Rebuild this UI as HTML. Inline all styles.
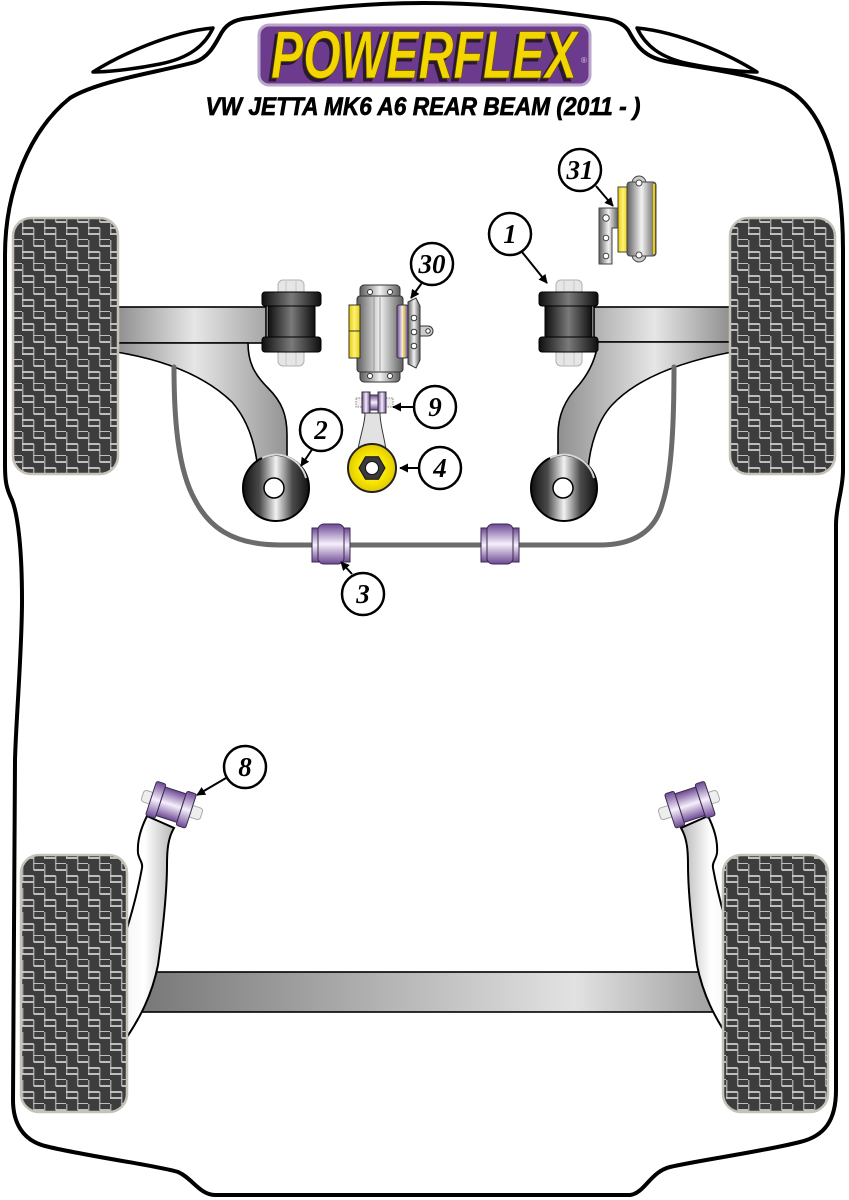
<!DOCTYPE html>
<html><head><meta charset="utf-8"><style>
html,body{margin:0;padding:0;background:#fff;}
svg{display:block;}
</style></head><body>
<svg width="849" height="1200" viewBox="0 0 849 1200" xmlns="http://www.w3.org/2000/svg">
<defs>
<pattern id="tp" width="22" height="24" patternUnits="userSpaceOnUse">
<rect width="22" height="24" fill="#3d3d3d"/>
<path d="M0.7,0V18M11.7,0V6M11.7,12V24" stroke="#a0a0a0" stroke-width="1.5"/>
<path d="M0,12H11.7M11.7,24H22M0,18H11.7M11.7,6H22" stroke="#d0d0d0" stroke-width="1.8"/>
</pattern>
<linearGradient id="gH" x1="0" x2="1" y1="0" y2="0"><stop offset="0" stop-color="#5e5e5e"/><stop offset=".5" stop-color="#f2f2f2"/><stop offset="1" stop-color="#5e5e5e"/></linearGradient>
<linearGradient id="kH" x1="0" x2="1" y1="0" y2="0"><stop offset="0" stop-color="#0e0e0e"/><stop offset=".5" stop-color="#7a7a7a"/><stop offset="1" stop-color="#0e0e0e"/></linearGradient>
<linearGradient id="pV" x1="0" x2="0" y1="0" y2="1"><stop offset="0" stop-color="#6c4894"/><stop offset=".5" stop-color="#f6f0fb"/><stop offset="1" stop-color="#6c4894"/></linearGradient>
<linearGradient id="pH" x1="0" x2="1" y1="0" y2="0"><stop offset="0" stop-color="#6c4894"/><stop offset=".5" stop-color="#f6f0fb"/><stop offset="1" stop-color="#6c4894"/></linearGradient>
<linearGradient id="armL" gradientUnits="userSpaceOnUse" x1="118" y1="0" x2="300" y2="0"><stop offset="0" stop-color="#909090"/><stop offset=".42" stop-color="#e6e6e6"/><stop offset="1" stop-color="#888"/></linearGradient>
<linearGradient id="armR" gradientUnits="userSpaceOnUse" x1="730" y1="0" x2="550" y2="0"><stop offset="0" stop-color="#909090"/><stop offset=".42" stop-color="#e6e6e6"/><stop offset="1" stop-color="#888"/></linearGradient>
<linearGradient id="beam" gradientUnits="userSpaceOnUse" x1="150" y1="0" x2="715" y2="0"><stop offset="0" stop-color="#7a7a7a"/><stop offset=".75" stop-color="#e2e2e2"/><stop offset="1" stop-color="#a0a0a0"/></linearGradient>
<linearGradient id="trail" x1="0" x2="1" y1="0" y2="0"><stop offset="0" stop-color="#f4f4f4"/><stop offset=".45" stop-color="#ffffff"/><stop offset="1" stop-color="#b5b5b5"/></linearGradient>
<linearGradient id="trailR" x1="1" x2="0" y1="0" y2="0"><stop offset="0" stop-color="#f4f4f4"/><stop offset=".45" stop-color="#ffffff"/><stop offset="1" stop-color="#b5b5b5"/></linearGradient>
<linearGradient id="disc" x1="0" x2="1" y1="0" y2="0"><stop offset="0" stop-color="#111"/><stop offset=".25" stop-color="#4a4a4a"/><stop offset=".5" stop-color="#f2f2f2"/><stop offset=".75" stop-color="#4a4a4a"/><stop offset="1" stop-color="#111"/></linearGradient>
<radialGradient id="yel"><stop offset="0" stop-color="#fffbb0"/><stop offset=".6" stop-color="#f7e600"/><stop offset="1" stop-color="#e2c800"/></radialGradient>
<linearGradient id="yH" x1="0" x2="1" y1="0" y2="0"><stop offset="0" stop-color="#e8cc00"/><stop offset=".5" stop-color="#fff27a"/><stop offset="1" stop-color="#e8cc00"/></linearGradient>
<marker id="ah" viewBox="0 0 10 10" refX="9" refY="5" markerWidth="4.5" markerHeight="4.5" orient="auto"><path d="M0,0L10,5L0,10z" fill="#000"/></marker>
</defs>

<!-- car outline -->
<path d="M425,1195 L215,1195 C200,1195 192,1178 178,1172 C160,1166 85,1156 45,1146 C22,1140 13,1122 13,1100 L15,760 C16,720 22,650 22,600 C22,550 18,515 12,500 C6,488 5,480 5,465 L5,255 C5,190 30,130 70,98 C100,80 160,72 195,62 C210,57 216,42 222,32 C228,22 238,19 250,18 C330,6 380,3 424,3 C470,3 520,6 600,18 C612,19 622,22 628,30 C634,40 640,56 665,61 C700,68 755,74 785,88 C820,106 843,160 843,250 L843,470 C843,490 836,505 836,525 L836,1090 C836,1120 825,1136 800,1142 C760,1152 700,1160 670,1167 C650,1172 645,1193 630,1195 Z" fill="none" stroke="#000" stroke-width="4"/>
<path d="M93,72 C120,55 170,32 213,28 C205,45 190,58 160,64 C130,70 105,72 93,72 Z" fill="none" stroke="#000" stroke-width="3.5" stroke-linejoin="round"/>
<path d="M757,72 C730,55 680,32 637,28 C645,45 660,58 690,64 C720,70 745,72 757,72 Z" fill="none" stroke="#000" stroke-width="3.5" stroke-linejoin="round"/>

<!-- logo -->
<rect x="259" y="25" width="331" height="60" rx="10" fill="#6d3b8e" stroke="#bba6cb" stroke-width="3"/>
<text x="268" y="81" textLength="306" lengthAdjust="spacingAndGlyphs" font-family="Liberation Sans, sans-serif" font-weight="bold" font-style="italic" font-size="68" fill="#2a1a2e" stroke="#2a1a2e" stroke-width="1">POWERFLEX</text>
<text x="271" y="78" textLength="306" lengthAdjust="spacingAndGlyphs" font-family="Liberation Sans, sans-serif" font-weight="bold" font-style="italic" font-size="68" fill="#f3d500" stroke="#6a5400" stroke-width="0.8">POWERFLEX</text>
<text x="581" y="63" font-family="Liberation Sans, sans-serif" font-size="8" fill="#d9c9e6">®</text>
<text x="423" y="115" text-anchor="middle" textLength="435" lengthAdjust="spacingAndGlyphs" font-family="Liberation Sans, sans-serif" font-weight="bold" font-style="italic" font-size="25" fill="#000" stroke="#000" stroke-width="0.7">VW JETTA MK6 A6 REAR BEAM (2011 - )</text>

<!-- top arms -->
<rect x="116" y="307" width="150" height="36" fill="url(#armL)" stroke="#000" stroke-width="1.6"/>
<path d="M116,343 L248,343 C248,362 254,374 268,388 C282,402 287,415 287,435 L287,470 L258,470 C255,440 246,418 232,402 C205,376 165,360 116,352 Z" fill="url(#armL)" stroke="#000" stroke-width="1.6"/>
<rect x="594" y="307" width="138" height="35" fill="url(#armR)" stroke="#000" stroke-width="1.6"/>
<path d="M732,342 L598,342 C596,358 590,372 578,386 C565,400 558,415 558,435 L558,470 L588,470 C590,445 598,420 612,405 C640,375 690,360 732,352 Z" fill="url(#armR)" stroke="#000" stroke-width="1.6"/>

<!-- anti roll bar -->
<path d="M174,367 C174,420 178,470 195,500 C208,525 230,545 280,545 L600,545 C635,545 655,530 662,505 C672,475 674,420 674,367" fill="none" stroke="#6b6b6b" stroke-width="5" stroke-linecap="round"/>

<!-- tyres top -->
<rect x="13" y="218" width="105" height="256" rx="18" fill="url(#tp)" stroke="#c6c2b8" stroke-width="2.5"/>
<rect x="730" y="218" width="105" height="256" rx="18" fill="url(#tp)" stroke="#c6c2b8" stroke-width="2.5"/>

<!-- black bushes (1) -->
<g>
<rect x="278" y="280" width="26" height="86" rx="5" fill="#e6e6e6" stroke="#b0b0b0"/>
<path d="M286,281V365M296,281V365" stroke="#c8c8c8"/>
<rect x="268" y="305" width="47" height="33" fill="url(#kH)" stroke="#000"/>
<rect x="262" y="292" width="59" height="14" rx="3" fill="url(#kH)" stroke="#000"/>
<rect x="262" y="337" width="59" height="15" rx="3" fill="url(#kH)" stroke="#000"/>
</g>
<g>
<rect x="556" y="280" width="26" height="86" rx="5" fill="#e6e6e6" stroke="#b0b0b0"/>
<path d="M564,281V365M574,281V365" stroke="#c8c8c8"/>
<rect x="545" y="305" width="47" height="33" fill="url(#kH)" stroke="#000"/>
<rect x="539" y="292" width="59" height="14" rx="3" fill="url(#kH)" stroke="#000"/>
<rect x="539" y="337" width="59" height="15" rx="3" fill="url(#kH)" stroke="#000"/>
</g>

<!-- disc bushes (2) -->
<circle cx="276" cy="488" r="33" fill="url(#disc)" stroke="#000" stroke-width="2"/>
<path d="M262,458 A31,31 0 0 1 306,478" fill="none" stroke="#d8d8d8" stroke-width="2"/>
<circle cx="274" cy="488" r="10" fill="#fff" stroke="#000" stroke-width="1.5"/>
<circle cx="564" cy="488" r="33" fill="url(#disc)" stroke="#000" stroke-width="2"/>
<path d="M550,458 A31,31 0 0 1 594,478" fill="none" stroke="#d8d8d8" stroke-width="2"/>
<circle cx="563" cy="488" r="10" fill="#fff" stroke="#000" stroke-width="1.5"/>

<!-- bar bushes (3) -->
<g stroke="#3a2a4e" stroke-width="1">
<rect x="312" y="528" width="38" height="34" fill="url(#pV)"/>
<rect x="318" y="524" width="26" height="40" rx="6" fill="url(#pV)"/>
<rect x="481" y="528" width="38" height="34" fill="url(#pV)"/>
<rect x="487" y="524" width="26" height="40" rx="6" fill="url(#pV)"/>
</g>

<!-- part 30 -->
<g stroke="#333" stroke-width="1">
<rect x="360" y="285" width="40" height="14" rx="4" fill="url(#gH)"/>
<circle cx="370" cy="292" r="2.5" fill="#fff"/><circle cx="390" cy="292" r="2.5" fill="#fff"/>
<rect x="360" y="368" width="40" height="14" rx="4" fill="url(#gH)"/>
<circle cx="370" cy="376" r="2.5" fill="#fff"/><circle cx="390" cy="376" r="2.5" fill="#fff"/>
<rect x="357" y="296" width="46" height="76" rx="3" fill="url(#gH)"/>
<path d="M374,297V371M380,297V371" stroke="#999"/>
<rect x="349" y="305" width="11" height="26" fill="url(#yH)"/>
<rect x="349" y="331" width="11" height="27" fill="url(#yH)"/>
<rect x="397" y="305" width="11" height="53" rx="2" fill="url(#pH)"/>
<path d="M404,306V357" stroke="#f3d500" stroke-width="1.5"/>
<path d="M408,302 L416,298 L420,306 L420,360 L416,368 L408,364 Z" fill="url(#gH)"/>
<circle cx="414" cy="318" r="2.8" fill="#fff"/><circle cx="414" cy="332" r="2.8" fill="#fff"/><circle cx="414" cy="346" r="2.8" fill="#fff"/>
<path d="M420,326 L428,326 A5,5 0 0 1 428,336 L420,336 Z" fill="#ccc"/>
<circle cx="428" cy="331" r="2.2" fill="#fff"/>
</g>

<!-- part 9 + rod + 4 -->
<g stroke="#333" stroke-width="1">
<path d="M365,413 L380,413 C380,425 384,435 386,450 L358,450 C360,435 365,425 365,413 Z" fill="#e2e2e2"/>
<rect x="356" y="398" width="7" height="9" fill="#f0f0f0" stroke="#888" stroke-dasharray="1.5,1"/>
<rect x="386" y="398" width="7" height="9" fill="#f0f0f0" stroke="#888" stroke-dasharray="1.5,1"/>
<rect x="369" y="395" width="10" height="15" fill="url(#pV)"/>
<rect x="362" y="392" width="8" height="21" fill="url(#pH)"/>
<rect x="378" y="392" width="8" height="21" fill="url(#pH)"/>
<circle cx="372" cy="468" r="24" fill="url(#yel)" stroke="#222" stroke-width="2"/>
<polygon points="385,468 378.5,479.3 365.5,479.3 359,468 365.5,456.7 378.5,456.7" fill="#3a3a3a" stroke="#111"/>
<circle cx="372" cy="468" r="6.5" fill="#fff" stroke="#111"/>
</g>

<!-- part 31 -->
<g stroke="#444" stroke-width="1">
<path d="M599,208 H618 V228 H612 V264 H599 Z" fill="url(#gH)"/>
<circle cx="606" cy="218" r="3.2" fill="#fff"/><circle cx="606" cy="238" r="2.8" fill="#fff"/><circle cx="606" cy="256" r="2.8" fill="#fff"/>
<rect x="618" y="187" width="10" height="65" fill="url(#yH)"/>
<circle cx="639" cy="183" r="7" fill="#ccc"/>
<circle cx="639" cy="255" r="7" fill="#ccc"/>
<rect x="627" y="182" width="29" height="74" rx="3" fill="url(#gH)"/>
<circle cx="639" cy="183" r="3" fill="#fff"/>
<circle cx="639" cy="255" r="3" fill="#fff"/>
<path d="M654,184V254" stroke="#f0d000" stroke-width="2"/>
</g>

<!-- rear beam -->
<rect x="140" y="972" width="578" height="40" fill="url(#beam)" stroke="#000" stroke-width="1.6"/>
<!-- trailing arms -->
<path d="M147,816 C141,828 137,840 138,853 C139,860 143,862 142,868 C138,890 132,915 120,950 L120,1045 L125,1040 C140,1018 152,995 158,965 C163,930 167,890 167,865 C167,850 168,838 174,828 Z" fill="url(#trail)" stroke="#000" stroke-width="2"/>
<path d="M708,816 C714,828 718,840 717,853 C716,860 712,862 713,868 C717,890 723,915 735,950 L735,1045 L730,1040 C715,1018 703,995 697,965 C692,930 688,890 688,865 C688,850 687,838 681,828 Z" fill="url(#trailR)" stroke="#000" stroke-width="2"/>

<!-- tyres bottom -->
<rect x="21" y="855" width="106" height="257" rx="18" fill="url(#tp)" stroke="#c6c2b8" stroke-width="2.5"/>
<rect x="723" y="855" width="105" height="257" rx="18" fill="url(#tp)" stroke="#c6c2b8" stroke-width="2.5"/>

<!-- bushes 8 -->
<g transform="translate(172,805) rotate(18)" stroke="#3a2a4e" stroke-width="1">
<rect x="-31" y="-6" width="62" height="12" rx="3" fill="#eee" stroke="#aaa"/>
<rect x="-12" y="-15" width="22" height="30" fill="url(#pV)"/>
<rect x="-22" y="-18" width="10" height="36" rx="2" fill="url(#pV)"/>
<rect x="10" y="-18" width="10" height="36" rx="2" fill="url(#pV)"/>
</g>
<g transform="translate(689,805) rotate(-18)" stroke="#3a2a4e" stroke-width="1">
<rect x="-31" y="-6" width="62" height="12" rx="3" fill="#eee" stroke="#aaa"/>
<rect x="-10" y="-15" width="22" height="30" fill="url(#pV)"/>
<rect x="-20" y="-18" width="10" height="36" rx="2" fill="url(#pV)"/>
<rect x="12" y="-18" width="10" height="36" rx="2" fill="url(#pV)"/>
</g>

<!-- arrows -->
<g stroke="#000" stroke-width="2" fill="none" marker-end="url(#ah)">
<path d="M596,186 L613,206"/>
<path d="M522,252 L547,283"/>
<path d="M424,280 L411,298"/>
<path d="M414,407 L393,407"/>
<path d="M419,468 L400,468"/>
<path d="M313,448 L301,466"/>
<path d="M352,574 L341,562"/>
<path d="M226,778 L197,795"/>
</g>

<!-- labels -->
<g fill="#fff" stroke="#000" stroke-width="2.5">
<circle cx="580" cy="170" r="21"/>
<circle cx="510" cy="234" r="21"/>
<circle cx="432" cy="264" r="21"/>
<circle cx="435" cy="407" r="21"/>
<circle cx="440" cy="468" r="21"/>
<circle cx="321" cy="430" r="21"/>
<circle cx="363" cy="594" r="21"/>
<circle cx="245" cy="767" r="21"/>
</g>
<g font-family="Liberation Serif, serif" font-weight="bold" font-style="italic" font-size="27" text-anchor="middle" fill="#000">
<text x="580" y="179">31</text>
<text x="510" y="243">1</text>
<text x="432" y="273">30</text>
<text x="435" y="416">9</text>
<text x="440" y="477">4</text>
<text x="321" y="439">2</text>
<text x="363" y="603">3</text>
<text x="245" y="776">8</text>
</g>
</svg>
</body></html>
